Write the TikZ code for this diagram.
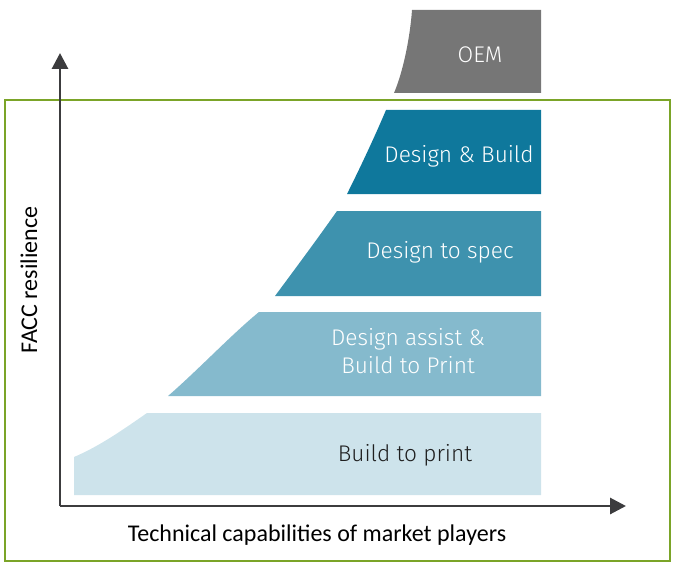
\documentclass[tikz,border=0pt]{standalone}
\usepackage{fontspec}
\setmainfont{Carlito}
\newfontfamily\bandfont{Fira Sans Light}
\usetikzlibrary{arrows.meta}

\definecolor{oemgray}{HTML}{767676}
\definecolor{bandA}{HTML}{CDE3EB}
\definecolor{bandB}{HTML}{85BACD}
\definecolor{bandC}{HTML}{3E92AE}
\definecolor{bandD}{HTML}{0F789C}
\definecolor{framegreen}{HTML}{7BA428}
\definecolor{axisgray}{HTML}{3C3C3E}

\tikzset{
  axis/.style={draw=axisgray, line width=2.2pt, -{Triangle[width=12pt,length=12pt]}},
  bandtext/.style={font=\bandfont\fontsize{17}{21}\selectfont, text=white, align=center},
  axistext/.style={font=\fontsize{18}{21}\selectfont, text=black}
}

\begin{document}
\begin{tikzpicture}[x=0.75pt,y=0.75pt,yscale=-1,xscale=1]
\useasboundingbox (0,0) rectangle (673,563);

%Shape: Frame [id:frame]
\draw [framegreen, line width=1.5pt] (4.5,100) rectangle (670,561);

%Shape: OEM band
\fill [oemgray] (394,93) .. controls (403,72) and (410,38) .. (412,10) -- (541,10) -- (541,93) -- cycle ;
%Shape: Design & Build band
\fill [bandD] (347,194) .. controls (361,166) and (375,136) .. (386,110) -- (541,110) -- (541,194) -- cycle ;
%Shape: Design to spec band
\fill [bandC] (275,296) .. controls (298,265) and (318,238) .. (337,211) -- (541,211) -- (541,296) -- cycle ;
%Shape: Design assist band
\fill [bandB] (168,396) .. controls (198,370) and (232,334) .. (259,312) -- (541,312) -- (541,396) -- cycle ;
%Shape: Build to print band
\fill [bandA] (74,495) -- (74,457) .. controls (100,446) and (124,429) .. (147,413) -- (541,413) -- (541,495) -- cycle ;

%Shape: Axis 2D
\coordinate (origin) at (60,506);
\coordinate (ytip) at (60,53);
\coordinate (xtip) at (626,506);
\draw [axis] (origin) -- (ytip);
\draw [axis] (origin) -- (xtip);

% Text Node
\draw (480,55) node [bandtext] (oem) {OEM};
% Text Node
\draw (459,156) node [bandtext] (dnb) {Design \& Build};
% Text Node
\draw (440,252) node [bandtext] (dts) {Design to spec};
% Text Node
\draw (408,351) node [bandtext] (dab) {Design assist \&\\Build to Print};
% Text Node
\draw (405,455) node [bandtext, text=black!88] (btp) {Build to print};
% Text Node
\draw (317,535) node [axistext] (xlabel) {Technical capabilities of market players};
% Text Node
\draw (29,280) node [axistext, rotate=90] (ylabel) {FACC resilience};

\end{tikzpicture}
\end{document}
